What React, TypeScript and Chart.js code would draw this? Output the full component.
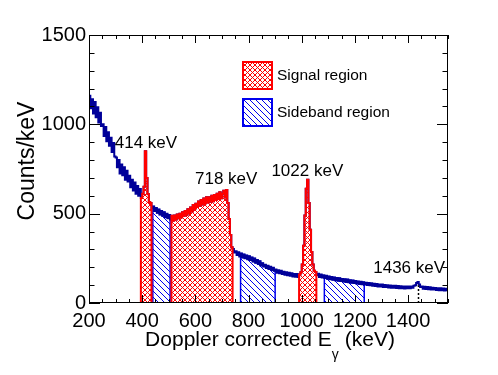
import React, { useEffect, useRef } from 'react';
import { Chart, registerables } from 'chart.js';

Chart.register(...registerables);

// ---------------- DATA ----------------
const binStart = 200; // keV, low edge of first bin
const binWidth = 5; // keV per bin
const counts: number[] = [
  1160, 1090, 1140, 1060, 1125, 1040, 1095, 1010, 1065, 990,
  1000, 935, 985, 905, 955, 880, 925, 845, 895, 820,
  815, 760, 800, 725, 775, 715, 760, 690, 740, 680,
  712, 648, 690, 630, 675, 612, 655, 600, 638, 588,
  612, 650, 850, 700, 610, 565, 560, 532, 540, 515,
  532, 505, 524, 495, 515, 488, 508, 480, 500, 474,
  492, 468, 488, 462, 490, 468, 495, 474, 500, 480,
  508, 488, 515, 494, 525, 502, 535, 512, 548, 528,
  556, 538, 568, 545, 576, 552, 585, 558, 592, 562,
  592, 566, 600, 570, 605, 576, 612, 582, 620, 586,
  612, 628, 590, 632, 560, 470, 380, 312, 302, 282,
  290, 268, 284, 260, 277, 255, 271, 250, 266, 245,
  262, 240, 255, 232, 249, 225, 240, 218, 233, 210,
  222, 204, 214, 196, 209, 190, 203, 185, 197, 180,
  188, 170, 183, 166, 180, 162, 175, 158, 172, 155,
  170, 152, 166, 149, 163, 147, 162, 146, 160, 172,
  215, 320, 490, 640, 690, 560, 410, 285, 215, 180,
  174, 156, 164, 146, 160, 143, 155, 140, 152, 136,
  149, 133, 146, 130, 143, 128, 140, 125, 138, 123,
  135, 121, 133, 118, 131, 116, 128, 114, 126, 112,
  123, 109, 121, 107, 119, 105, 116, 103, 114, 101,
  112, 99, 110, 97, 108, 95, 106, 93, 104, 92,
  103, 90, 101, 89, 100, 87, 98, 86, 97, 85,
  96, 84, 95, 83, 94, 82, 93, 81, 92, 82,
  93, 82, 92, 86, 97, 100, 112, 118, 104, 90,
  92, 80, 91, 78, 89, 77, 88, 76, 86, 75,
  84, 73, 83, 72, 82, 71, 81, 70, 80, 72,
];

const xMin = 200;
const xMax = 1550;
const yMin = 0;
const yMax = 1500;
const xTickValues = [200, 400, 600, 800, 1000, 1200, 1400];
const yTickValues = [0, 500, 1000, 1500];
const xMinorStep = 50;
const yMinorStep = 100;

const signalRegions: [number, number][] = [[395, 435], [510, 740], [990, 1055]];
const sidebandRegions: [number, number][] = [[440, 505], [770, 900], [1085, 1235]];

const peakLabels = ['414 keV', '718 keV', '1022 keV', '1436 keV'];
const peakLabelX = [414, 716, 1021, 1404];
const peakLabelY = [892, 692, 736, 195];
const markerEnergy = 1438;
const markerTop = 100;

const legendLabels = ['Signal region', 'Sideband region'];
const xTitleParts = ['Doppler corrected E', 'γ', ' (keV)'];
const yTitle = 'Counts/keV';

// ---------------- STYLE ----------------
const NAVY = '#000099';
const RED = '#ff0000';
const BLUE = '#0000ee';
const FONT = '"Liberation Sans", Arial, Helvetica, sans-serif';

type Pt = { x: number; y: number };

function spectrumPoints(): Pt[] {
  const pts = counts.map((c, i) => ({ x: binStart + i * binWidth, y: c }));
  pts.push({ x: binStart + counts.length * binWidth, y: counts[counts.length - 1] });
  return pts;
}

function regionPoints(a: number, b: number): Pt[] {
  const pts: Pt[] = [{ x: a, y: 0 }];
  let last = 0;
  counts.forEach((c, i) => {
    const e = binStart + i * binWidth;
    if (e >= a && e < b) {
      pts.push({ x: e, y: c });
      last = c;
    }
  });
  pts.push({ x: b, y: last });
  pts.push({ x: b, y: 0 });
  return pts;
}

function makeCrossHatch(color: string, s: number): CanvasPattern | string {
  const c = document.createElement('canvas');
  c.width = s;
  c.height = s;
  const g = c.getContext('2d');
  if (!g) return color;
  g.strokeStyle = color;
  g.lineWidth = 1;
  g.beginPath();
  g.moveTo(0, 0); g.lineTo(s, s);
  g.moveTo(-s, 0); g.lineTo(0, s);
  g.moveTo(s, 0); g.lineTo(2 * s, s);
  g.moveTo(s, 0); g.lineTo(0, s);
  g.moveTo(0, 0); g.lineTo(-s, s);
  g.moveTo(2 * s, 0); g.lineTo(s, s);
  g.stroke();
  return g.createPattern(c, 'repeat') || color;
}

function makeHatch(color: string, s: number): CanvasPattern | string {
  const c = document.createElement('canvas');
  c.width = s;
  c.height = s;
  const g = c.getContext('2d');
  if (!g) return color;
  g.strokeStyle = color;
  g.lineWidth = 1;
  g.beginPath();
  g.moveTo(0, 0); g.lineTo(s, s);
  g.moveTo(-s, 0); g.lineTo(0, s);
  g.moveTo(s, 0); g.lineTo(2 * s, s);
  g.stroke();
  return g.createPattern(c, 'repeat') || color;
}

export default function App() {
  const ref = useRef<HTMLCanvasElement | null>(null);

  useEffect(() => {
    document.body.style.margin = '0';
    const canvas = ref.current;
    if (!canvas) return;
    const cross = makeCrossHatch(RED, 5);
    const hatch = makeHatch(BLUE, 6);

    const signalSets = signalRegions.map(([a, b]) => ({
      data: regionPoints(a, b),
      borderColor: RED,
      borderWidth: 2,
      backgroundColor: cross,
      fill: 'origin',
      stepped: true,
      pointRadius: 0,
    }));
    const sideSets = sidebandRegions.map(([a, b]) => ({
      data: regionPoints(a, b),
      borderColor: BLUE,
      borderWidth: 1.5,
      backgroundColor: hatch,
      fill: 'origin',
      stepped: true,
      pointRadius: 0,
    }));
    const spectrumSet = {
      data: spectrumPoints(),
      borderColor: NAVY,
      borderWidth: 2,
      backgroundColor: 'transparent',
      fill: false,
      stepped: true,
      pointRadius: 0,
    };

    const decor = {
      id: 'decor',
      afterDraw(chart: any) {
        const ctx: CanvasRenderingContext2D = chart.ctx;
        const { left, right, top, bottom } = chart.chartArea;
        const xs = chart.scales.x;
        const ys = chart.scales.y;
        ctx.save();

        // dotted marker
        const mx = Math.round(xs.getPixelForValue(markerEnergy)) + 0.5;
        ctx.strokeStyle = '#000';
        ctx.lineWidth = 1.5;
        ctx.setLineDash([2, 2]);
        ctx.beginPath();
        ctx.moveTo(mx, ys.getPixelForValue(0));
        ctx.lineTo(mx, ys.getPixelForValue(markerTop));
        ctx.stroke();
        ctx.setLineDash([]);

        // frame
        ctx.lineWidth = 1;
        ctx.strokeStyle = '#000';
        ctx.strokeRect(left + 0.5, top + 0.5, right - left - 1, bottom - top - 1);

        // ticks
        ctx.beginPath();
        for (let v = xMin; v <= xMax + 0.001; v += xMinorStep) {
          const px = Math.round(xs.getPixelForValue(v)) + 0.5;
          const major = xTickValues.includes(v);
          const len = major ? 8 : 4;
          ctx.moveTo(px, bottom); ctx.lineTo(px, bottom - len);
          ctx.moveTo(px, top); ctx.lineTo(px, top + len);
        }
        for (let v = yMin; v <= yMax + 0.001; v += yMinorStep) {
          const py = Math.round(ys.getPixelForValue(v)) + 0.5;
          const major = yTickValues.includes(v);
          const len = major ? 11 : 5.5;
          ctx.moveTo(left, py); ctx.lineTo(left + len, py);
          ctx.moveTo(right, py); ctx.lineTo(right - len, py);
        }
        ctx.stroke();

        // peak labels
        ctx.fillStyle = '#000';
        ctx.font = `17px ${FONT}`;
        ctx.textAlign = 'center';
        ctx.textBaseline = 'middle';
        peakLabels.forEach((t, i) => {
          ctx.fillText(t, xs.getPixelForValue(peakLabelX[i]), ys.getPixelForValue(peakLabelY[i]));
        });

        // legend
        const boxes = [
          { y: 62, fill: cross, stroke: RED },
          { y: 99, fill: hatch, stroke: BLUE },
        ];
        boxes.forEach((b, i) => {
          ctx.fillStyle = b.fill as any;
          ctx.fillRect(243, b.y, 29, 27);
          ctx.strokeStyle = b.stroke;
          ctx.lineWidth = 2;
          ctx.strokeRect(243, b.y, 29, 27);
          ctx.fillStyle = '#000';
          ctx.font = `15.5px ${FONT}`;
          ctx.textAlign = 'left';
          ctx.textBaseline = 'middle';
          ctx.fillText(legendLabels[i], 277, b.y + 14);
        });

        // x title with subscript
        const mainFont = `21px ${FONT}`;
        const subFont = `14px ${FONT}`;
        ctx.font = mainFont;
        const w0 = ctx.measureText(xTitleParts[0]).width;
        const w2 = ctx.measureText(xTitleParts[2]).width;
        ctx.font = subFont;
        const w1 = ctx.measureText(xTitleParts[1]).width;
        const total = w0 + w1 + w2;
        const x0 = 270 - total / 2;
        ctx.textAlign = 'left';
        ctx.textBaseline = 'alphabetic';
        ctx.fillStyle = '#000';
        ctx.font = mainFont;
        ctx.fillText(xTitleParts[0], x0, 346);
        ctx.font = subFont;
        ctx.fillText(xTitleParts[1], x0 + w0, 359);
        ctx.font = mainFont;
        ctx.fillText(xTitleParts[2], x0 + w0 + w1, 346);

        // y title
        ctx.save();
        ctx.translate(34, 161);
        ctx.rotate(-Math.PI / 2);
        ctx.font = `23px ${FONT}`;
        ctx.textAlign = 'center';
        ctx.textBaseline = 'alphabetic';
        ctx.fillText(yTitle, 0, 0);
        ctx.restore();

        ctx.restore();
      },
    };

    const chart = new Chart(canvas, {
      type: 'line',
      data: {
        datasets: [...signalSets, spectrumSet, ...sideSets] as any,
      },
      options: {
        animation: false,
        responsive: true,
        maintainAspectRatio: false,
        layout: { padding: { left: 0, top: 35, right: 50, bottom: 0 } },
        plugins: {
          legend: { display: false },
          tooltip: { enabled: false },
        },
        elements: { line: { tension: 0 } },
        scales: {
          x: {
            type: 'linear',
            min: xMin,
            max: xMax,
            grid: { display: false, drawTicks: false },
            border: { display: false },
            ticks: {
              font: { family: FONT, size: 20 },
              color: '#000',
              padding: 6,
              maxRotation: 0,
              callback: (v: any) => String(v),
            },
            afterBuildTicks: (s: any) => {
              s.ticks = xTickValues.map((v) => ({ value: v }));
            },
            afterFit: (s: any) => {
              s.height = 72;
            },
          },
          y: {
            type: 'linear',
            min: yMin,
            max: yMax,
            grid: { display: false, drawTicks: false },
            border: { display: false },
            ticks: {
              font: { family: FONT, size: 20 },
              color: '#000',
              padding: 3,
              callback: (v: any) => String(v),
            },
            afterBuildTicks: (s: any) => {
              s.ticks = yTickValues.map((v) => ({ value: v }));
            },
            afterFit: (s: any) => {
              s.width = 89;
            },
          },
        },
      },
      plugins: [decor],
    });

    return () => chart.destroy();
  }, []);

  return (
    <div style={{ position: 'fixed', left: 0, top: 0, width: 498, height: 375, background: '#fff' }}>
      <canvas ref={ref} />
    </div>
  );
}
